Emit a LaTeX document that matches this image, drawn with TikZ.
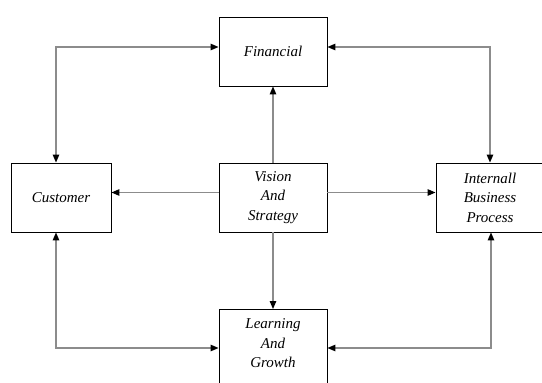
\documentclass[tikz,border=0pt]{standalone}
\usepackage{fontspec}
\setmainfont{Liberation Serif}
\usetikzlibrary{arrows.meta}

\begin{document}
\begin{tikzpicture}[x=1pt,y=-1pt]
\tikzstyle{every node}=[font=\fontsize{15}{19.5}\selectfont\itshape,align=center]
\tikzstyle{box}=[draw,line width=0.9pt,minimum width=108pt,minimum height=69pt,inner sep=0pt]
\tikzstyle{link}=[draw=black!45,line width=1.3pt,-{Triangle[length=8pt,width=6.5pt,color=black]}]
\tikzstyle{twoway}=[link,{Triangle[length=8pt,width=6.5pt,color=black]}-{Triangle[length=8pt,width=6.5pt,color=black]}]
\clip (0,0) rectangle (542,383);
\node[box] (fin) at (273,51.5) {Financial};
\node[box,minimum width=100pt] (cust) at (61,197.5) {Customer};
\node[box] (vis) at (273,197.5) {Vision\\And\\Strategy};
\node[box] (proc) at (490,197.5) {Internall\\Business\\Process};
\node[box,minimum height=80pt,anchor=north] (learn) at (273,309) {};
\node (learntext) at (273,343.5) {Learning\\And\\Growth};
% corners of the outer loop
\coordinate (tl) at (56,47);
\coordinate (tr) at (490,47);
\coordinate (bl) at (56,348);
\coordinate (br) at (491,348);
\coordinate (mid) at (273,192.5);
\path
(vis) edge[link] (fin)
(vis.west |- mid) edge[link] (cust.east |- mid)
(vis.east |- mid) edge[link] (proc.west |- mid)
(vis) edge[link] (learn)
;
\draw[twoway] (fin.west |- tl) -- (tl) -- (tl |- cust.north);
\draw[twoway] (fin.east |- tr) -- (tr) -- (tr |- proc.north);
\draw[twoway] (cust.south -| bl) -- (bl) -- (bl -| learn.west);
\draw[twoway] (proc.south -| br) -- (br) -- (br -| learn.east);
\end{tikzpicture}
\end{document}
